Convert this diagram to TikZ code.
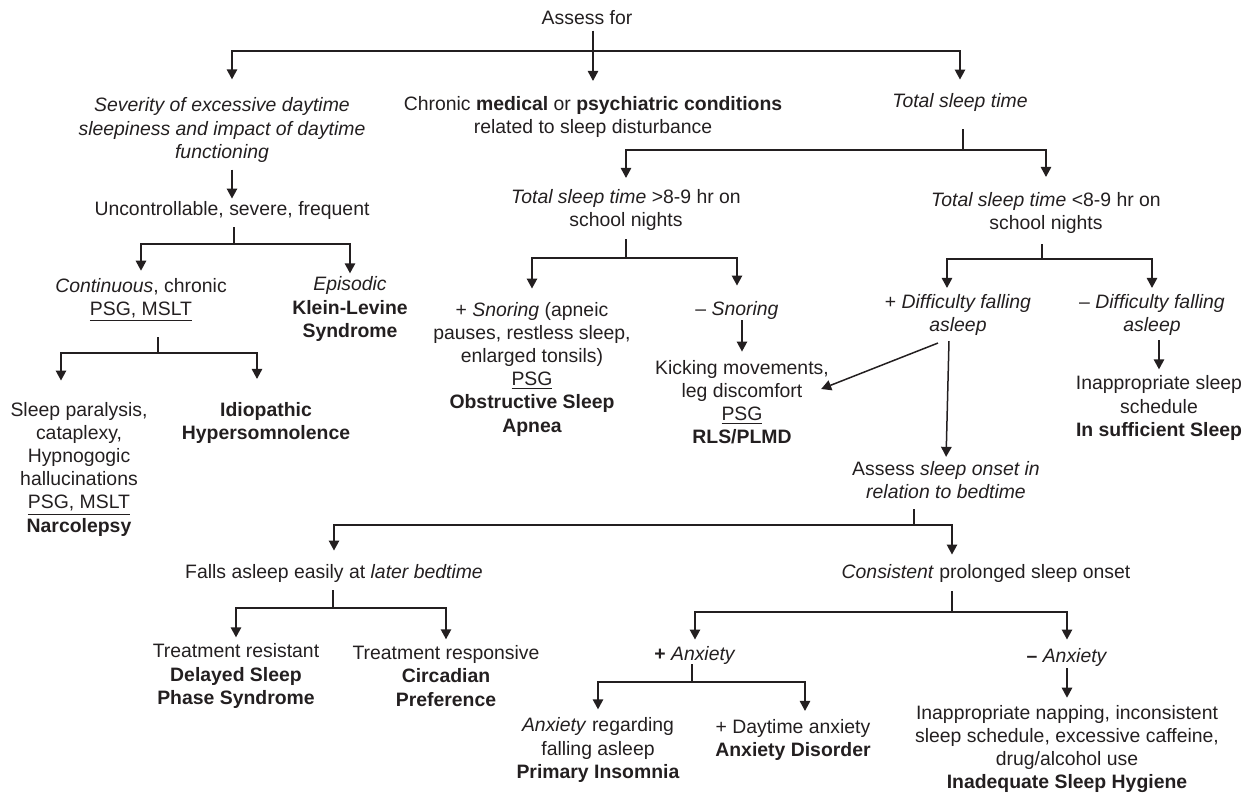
\documentclass[tikz,border=0pt]{standalone}
\usepackage{fontspec}
\setmainfont{Liberation Sans}
\usetikzlibrary{arrows.meta, calc, positioning}
\definecolor{ink}{HTML}{231F20}

\begin{document}
\begin{tikzpicture}[x=0.5pt, y=-0.5pt,
  txt/.style={align=center, inner sep=0pt, text=ink, font=\fontsize{9.7pt}{11.6pt}\selectfont},
  link/.style={draw=ink, line width=0.75pt},
  arr/.style={link, -{Triangle[length=5pt, width=5.2pt]}, shorten >=3pt},
]
\useasboundingbox (0,0) rectangle (1250,795);

% First level
\node[txt] (top) at (587,18) {Assess for};
\node[txt] (sev) at (222,130) {\textit{Severity of excessive daytime}\\\textit{sleepiness and impact of daytime}\\\textit{functioning}};
\node[txt] (chron) at (593,117) {Chronic \textbf{medical} or \textbf{psychiatric conditions}\\related to sleep disturbance};
\node[txt] (tst) at (960,102) {\textit{Total sleep time}};

% Daytime sleepiness branch
\node[txt] (unc) at (232,210) {Uncontrollable, severe, frequent};
\node[txt] (cont) at (141,300) {\textit{Continuous}, chronic\\\underline{PSG, MSLT}};
\node[txt] (epi) at (350,309) {\textit{Episodic}\\\textbf{Klein-Levine}\\\textbf{Syndrome}};
\node[txt] (narco) at (79,469) {Sleep paralysis,\\cataplexy,\\Hypnogogic\\hallucinations\\\underline{PSG, MSLT}\\\textbf{Narcolepsy}};
\node[txt] (idio) at (266,423) {\textbf{Idiopathic}\\\textbf{Hypersomnolence}};

% Sleep time branch
\node[txt] (tstg) at (626,210) {\textit{Total sleep time} >8-9 hr on\\school nights};
\node[txt] (tstl) at (1046,213) {\textit{Total sleep time} <8-9 hr on\\school nights};
\node[txt] (psnore) at (532,369) {+ \textit{Snoring} (apneic\\pauses, restless sleep,\\enlarged tonsils)\\\underline{PSG}\\\textbf{Obstructive Sleep}\\\textbf{Apnea}};
\node[txt] (msnore) at (737,310) {– \textit{Snoring}};
\node[txt] (kick) at (742,402) {Kicking movements,\\leg discomfort\\\underline{PSG}\\\textbf{RLS/PLMD}};
\node[txt] (pdiff) at (958,315) {+ \textit{Difficulty falling}\\\textit{asleep}};
\node[txt] (mdiff) at (1152,315) {– \textit{Difficulty falling}\\\textit{asleep}};
\node[txt] (insuf) at (1159,408) {Inappropriate sleep\\schedule\\\textbf{In sufficient Sleep}};

% Sleep onset branch
\node[txt] (assess) at (946,480) {Assess \textit{sleep onset in}\\\textit{relation to bedtime}};
\node[txt] (falls) at (334,573) {Falls asleep easily at \textit{later bedtime}};
\node[txt] (consist) at (986,573) {\textit{Consistent} prolonged sleep onset};
\node[txt] (tres) at (236,676) {Treatment resistant\\\textbf{Delayed Sleep}\\\textbf{Phase Syndrome}};
\node[txt] (tresp) at (446,676) {Treatment responsive\\\textbf{Circadian}\\\textbf{Preference}};
\node[txt] (panx) at (695,655) {\textbf{+} \textit{Anxiety}};
\node[txt] (manx) at (1067,657) {\textbf{–} \textit{Anxiety}};
\node[txt] (anxreg) at (598,750) {\textit{Anxiety} regarding\\falling asleep\\\textbf{Primary Insomnia}};
\node[txt] (anxdis) at (793,740) {+ Daytime anxiety\\\textbf{Anxiety Disorder}};
\node[txt] (hyg) at (1067,749) {Inappropriate napping, inconsistent\\sleep schedule, excessive caffeine,\\drug/alcohol use\\\textbf{Inadequate Sleep Hygiene}};

% Junctions
\coordinate (j0) at (593,51);
\coordinate (j1) at (234,244);
\coordinate (j2) at (158,353);
\coordinate (j3) at (963,150);
\coordinate (j4) at (626,258);
\coordinate (j5) at (1042,259);
\coordinate (j6) at (914,525);
\coordinate (j7) at (333,608);
\coordinate (j8) at (952,612);
\coordinate (j9) at (692,682);

% Assess for
\draw[link, shorten <=2.5pt] (top.south -| j0) -- (j0);
\draw[arr, shorten >=9pt] (j0) -| ([xshift=5pt]sev.north);
\draw[arr, shorten >=7.5pt] (j0) -- (chron.north);
\draw[arr, shorten >=6.5pt] (j0) -| (tst.north);

% Sleepiness
\draw[arr, shorten <=3.5pt, shorten >=1pt] (unc.north |- sev.south) -- (unc.north);
\draw[link, shorten <=4pt] (unc.south -| j1) -- (j1);
\draw[arr, shorten >=3.5pt] (j1) -| (cont.north);
\draw[arr, shorten >=1.5pt] (j1) -| (epi.north);
\draw[link, shorten <=7.5pt] (cont.south -| j2) -- (j2);
\draw[arr, shorten >=10.5pt] (j2) -| ([xshift=-9pt]narco.north);
\draw[arr, shorten >=11.5pt] (j2) -| ([xshift=-4.5pt]idio.north);

% Total sleep time
\draw[link, shorten <=9pt] (tst.south -| j3) -- (j3);
\draw[arr, shorten >=5.5pt] (j3) -| (tstg.north);
\draw[arr, shorten >=7.5pt] (j3) -| (tstl.north);
\draw[link, shorten <=4pt] (tstg.south -| j4) -- (j4);
\draw[arr, shorten >=6.5pt] (j4) -| (psnore.north);
\draw[arr, shorten >=7.5pt] (j4) -| (msnore.north);
\draw[arr, shorten <=0.5pt, shorten >=4pt] (kick.north |- msnore.south) -- (kick.north);
\draw[link, shorten <=5pt] (tstl.south -| j5) -- (j5);
\draw[arr] (j5) -| ([xshift=-5.5pt]pdiff.north);
\draw[arr] (j5) -| (mdiff.north);
\draw[arr, shorten <=2pt] (insuf.north |- mdiff.south) -- (insuf.north);
\draw[arr, shorten >=0pt] ([xshift=-10pt, yshift=-3.5pt]pdiff.south) -- ([xshift=-4pt, yshift=6.5pt]kick.east);
\draw[arr, shorten >=2pt] ([xshift=-4.5pt, yshift=-2.5pt]pdiff.south) -- (assess.north);

% Sleep onset
\draw[link, shorten <=5pt] (assess.south -| j6) -- (j6);
\draw[arr, shorten >=6.5pt] (j6) -| (falls.north);
\draw[arr, shorten >=4.5pt] (j6) -| ([xshift=-17pt]consist.north);
\draw[link, shorten <=4pt] (falls.south -| j7) -- (j7);
\draw[arr] (j7) -| (tres.north);
\draw[arr] (j7) -| (tresp.north);
\draw[link, shorten <=4.5pt] (consist.south -| j8) -- (j8);
\draw[arr] (j8) -| (panx.north);
\draw[arr, shorten >=4pt] (j8) -| (manx.north);
\draw[link] (panx.south -| j9) -- (j9);
\draw[arr, shorten >=4pt] (j9) -| (anxreg.north);
\draw[arr, shorten >=4pt] (j9) -| ([xshift=6pt]anxdis.north);
\draw[arr, shorten <=1pt, shorten >=3.5pt] (hyg.north |- manx.south) -- (hyg.north);
\end{tikzpicture}
\end{document}
